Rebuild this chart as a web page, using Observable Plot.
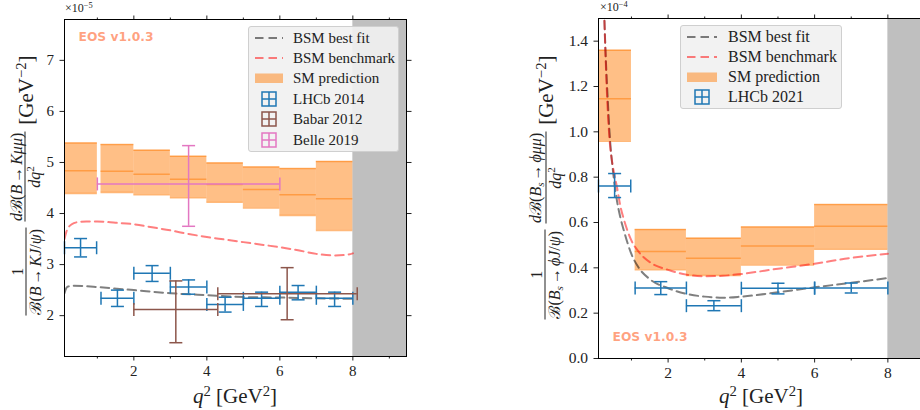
<!DOCTYPE html>
<html>
<head>
<meta charset="utf-8">
<script src="https://cdn.jsdelivr.net/npm/d3@7"></script>
<script src="https://cdn.jsdelivr.net/npm/@observablehq/plot@0.6"></script>
<style>
  html, body { margin: 0; padding: 0; background: #fff; }
  #page { position: relative; width: 920px; height: 410px; overflow: hidden; background: #fff; font-family: "Liberation Serif", serif; color: #222; }
  .panel { position: absolute; top: 0; }
  .ylab { position: absolute; transform: translate(-50%, -50%) rotate(-90deg); display: flex; align-items: center; white-space: nowrap; }
  .frac { display: inline-flex; flex-direction: column; align-items: stretch; font-size: 16px; line-height: 17px; margin: 0 3px; }
  .frac > span { text-align: center; padding: 0 1px; }
  .frac > .num { border-bottom: 1px solid #222; }
  .unit { font-size: 21px; margin-left: 4px; }
  sup { font-size: 0.7em; vertical-align: baseline; position: relative; top: -0.5em; }
  sub { font-size: 0.7em; vertical-align: baseline; position: relative; top: 0.25em; }
  .ar { margin: 0 2px; font-style: normal; }
  .xlab { position: absolute; transform: translate(-50%, -50%); font-size: 21px; white-space: nowrap; }
  .offset { position: absolute; font-size: 12px; white-space: nowrap; }
  .legend { position: absolute; background: rgba(241,241,241,0.9); border: 1px solid #cfcfcf; border-radius: 3px; box-sizing: border-box; }
  .row { position: absolute; left: 0; height: 20px; display: flex; align-items: center; white-space: nowrap; }
  .row svg { position: absolute; top: 0; }
  .row span { position: absolute; top: 50%; transform: translateY(-50%); }
</style>
</head>
<body>
<div id="page"></div>
<script>
// ---------- Left panel: B -> K mu mu (units 1e-5) ----------
const smBinLoK  = [0.1, 1.1, 2, 3, 4, 5, 6, 7];
const smBinHiK  = [1.0, 2.0, 3, 4, 5, 6, 7, 8];
const smCentralK = [4.84, 4.83, 4.77, 4.67, 4.57, 4.47, 4.37, 4.29];
const smLowK     = [4.39, 4.41, 4.37, 4.31, 4.22, 4.11, 3.96, 3.67];
const smHighK    = [5.38, 5.35, 5.24, 5.12, 4.99, 4.91, 4.88, 5.02];

const lhcb14XLo = [0.1, 1.1, 2, 3, 4, 5, 6, 7];
const lhcb14XHi = [0.98, 2, 3, 4, 5, 6, 7, 8];
const lhcb14X   = [0.54, 1.55, 2.5, 3.5, 4.5, 5.5, 6.5, 7.5];
const lhcb14Y   = [3.33, 2.34, 2.83, 2.56, 2.22, 2.34, 2.46, 2.34];
const lhcb14YLo = [3.15, 2.18, 2.67, 2.42, 2.07, 2.18, 2.31, 2.18];
const lhcb14YHi = [3.51, 2.50, 2.98, 2.70, 2.36, 2.46, 2.59, 2.46];

const babarXLo = [2.0, 4.3];
const babarXHi = [4.3, 8.12];
const babarX   = [3.15, 6.2];
const babarY   = [2.12, 2.43];
const babarYLo = [1.47, 1.92];
const babarYHi = [2.68, 2.94];

const belleXLo = [1.0];
const belleXHi = [6.0];
const belleX   = [3.5];
const belleY   = [4.58];
const belleYLo = [3.75];
const belleYHi = [5.33];

const bestFitKq2 = [0.1, 0.15, 0.2, 0.35, 0.6, 1, 2, 3, 4, 5, 6, 7, 8];
const bestFitK   = [2.44, 2.54, 2.57, 2.585, 2.58, 2.56, 2.50, 2.44, 2.40, 2.365, 2.355, 2.34, 2.33];
const benchKq2 = [0.1, 0.15, 0.2, 0.3, 0.45, 0.7, 1, 1.5, 2, 2.5, 3, 3.5, 4, 4.5, 5, 5.5, 6, 6.5, 7, 7.5, 7.8, 8];
const benchK   = [3.50, 3.64, 3.72, 3.79, 3.83, 3.845, 3.845, 3.82, 3.79, 3.73, 3.67, 3.60, 3.54, 3.49, 3.44, 3.39, 3.34, 3.28, 3.21, 3.18, 3.19, 3.22];

const xTicksMajor = [2, 4, 6, 8];
const xTicksMinor = [1, 3, 5, 7, 9];
const yTicksK = [2, 3, 4, 5, 6, 7];

// ---------- Right panel: Bs -> phi mu mu (units 1e-4) ----------
const smBinLoPhi = [0.1, 1.1, 2.5, 4, 6];
const smBinHiPhi = [1.0, 2.5, 4, 6, 8];
const smCentralPhi = [1.146, 0.472, 0.442, 0.496, 0.583];
const smLowPhi     = [0.959, 0.392, 0.366, 0.413, 0.482];
const smHighPhi    = [1.360, 0.569, 0.531, 0.580, 0.679];

const lhcb21XLo = [0.1, 1.1, 2.5, 4, 6];
const lhcb21XHi = [0.98, 2.5, 4, 6, 8];
const lhcb21X   = [0.54, 1.8, 3.25, 5, 7];
const lhcb21Y   = [0.761, 0.311, 0.233, 0.310, 0.311];
const lhcb21YLo = [0.710, 0.282, 0.211, 0.285, 0.289];
const lhcb21YHi = [0.816, 0.339, 0.255, 0.332, 0.333];

const bestFitPhiq2 = [0.25, 0.3, 0.35, 0.4, 0.5, 0.6, 0.7, 0.8, 1.0, 1.2, 1.5, 2, 2.5, 3, 3.5, 4, 5, 6, 7, 8];
const bestFitPhi   = [1.55, 1.32, 1.15, 1.00, 0.82, 0.70, 0.62, 0.56, 0.46, 0.40, 0.35, 0.31, 0.285, 0.273, 0.268, 0.273, 0.292, 0.314, 0.334, 0.355];
const benchPhiq2 = [0.25, 0.3, 0.35, 0.4, 0.5, 0.6, 0.7, 0.8, 1.0, 1.2, 1.5, 2, 2.5, 3, 3.5, 4, 5, 6, 7, 8];
const benchPhi   = [1.55, 1.30, 1.10, 0.97, 0.84, 0.76, 0.67, 0.61, 0.52, 0.47, 0.425, 0.391, 0.370, 0.363, 0.365, 0.373, 0.396, 0.418, 0.444, 0.462];

const yTicksPhi = [0, 0.2, 0.4, 0.6, 0.8, 1.0, 1.2, 1.4];

// ---------- helpers ----------
const ORANGE = "#ff7f0e", BLUE = "#1f77b4", BROWN = "#8c564b", PINK = "#e377c2";
const DASH = "8.5,5";
const hcap = {draw(ctx, size) { const r = Math.sqrt(size / Math.PI); ctx.moveTo(-r, 0); ctx.lineTo(r, 0); }};
const vcap = {draw(ctx, size) { const r = Math.sqrt(size / Math.PI); ctx.moveTo(0, -r); ctx.lineTo(0, r); }};

const bins = (lo, hi, c, l, h) => lo.map((d, i) => ({x1: d, x2: hi[i], c: c[i], lo: l[i], hi: h[i]}));
const pts = (xlo, xhi, x, y, ylo, yhi) => x.map((d, i) => ({xlo: xlo[i], xhi: xhi[i], x: d, y: y[i], ylo: ylo[i], yhi: yhi[i]}));
const curve = (xs, ys) => xs.map((d, i) => ({x: d, y: ys[i]}));

function smMarks(data) {
  return [
    Plot.rect(data, {x1: "x1", x2: "x2", y1: "lo", y2: "hi", fill: ORANGE, fillOpacity: 0.5}),
    Plot.ruleY(data, {x1: "x1", x2: "x2", y: "lo", stroke: ORANGE, strokeOpacity: 0.55, strokeWidth: 1.5}),
    Plot.ruleY(data, {x1: "x1", x2: "x2", y: "hi", stroke: ORANGE, strokeOpacity: 0.55, strokeWidth: 1.5}),
    Plot.ruleY(data, {x1: "x1", x2: "x2", y: "c", stroke: ORANGE, strokeOpacity: 0.55, strokeWidth: 1.5})
  ];
}
function errMarks(data, color) {
  const sw = 1.5, r = 6.5;
  return [
    Plot.ruleY(data, {x1: "xlo", x2: "xhi", y: "y", stroke: color, strokeWidth: sw}),
    Plot.ruleX(data, {x: "x", y1: "ylo", y2: "yhi", stroke: color, strokeWidth: sw}),
    Plot.dot(data, {x: "x", y: "ylo", symbol: hcap, r, stroke: color, strokeWidth: sw, fill: "none"}),
    Plot.dot(data, {x: "x", y: "yhi", symbol: hcap, r, stroke: color, strokeWidth: sw, fill: "none"}),
    Plot.dot(data, {x: "xlo", y: "y", symbol: vcap, r, stroke: color, strokeWidth: sw, fill: "none"}),
    Plot.dot(data, {x: "xhi", y: "y", symbol: vcap, r, stroke: color, strokeWidth: sw, fill: "none"})
  ];
}
function curveMarks(best, bench) {
  return [
    Plot.line(best, {x: "x", y: "y", stroke: "black", strokeOpacity: 0.5, strokeWidth: 2, strokeDasharray: DASH, curve: "monotone-x", clip: true}),
    Plot.line(bench, {x: "x", y: "y", stroke: "red", strokeOpacity: 0.5, strokeWidth: 2, strokeDasharray: DASH, curve: "monotone-x", clip: true})
  ];
}
function axisMarks(yTicks, yFmt, fs) {
  const blank = () => "";
  return [
    Plot.axisX(xTicksMajor, {anchor: "bottom", tickSize: 4.5, tickPadding: 4, label: null, fontSize: fs, tickFormat: d => String(d)}),
    Plot.axisX(xTicksMinor, {anchor: "bottom", tickSize: 2.5, label: null, tickFormat: blank}),
    Plot.axisX(xTicksMajor, {anchor: "top", tickSize: 4.5, label: null, tickFormat: blank}),
    Plot.axisX(xTicksMinor, {anchor: "top", tickSize: 2.5, label: null, tickFormat: blank}),
    Plot.axisY(yTicks, {anchor: "left", tickSize: 4.5, tickPadding: 6, label: null, fontSize: fs, tickFormat: yFmt}),
    Plot.axisY(yTicks, {anchor: "right", tickSize: 4.5, label: null, tickFormat: blank})
  ];
}
const eos = (anchor, dx, dy) => Plot.text(["EOS v1.0.3"], {frameAnchor: anchor, dx, dy, lineAnchor: "middle", textAnchor: "start",
  fill: "orangered", fillOpacity: 0.5, fontFamily: "DejaVu Sans", fontWeight: "bold", fontSize: 12.3});

// ---------- left plot ----------
const xMaxK = 9.47, xMaxPhi = 9.0;
const left = Plot.plot({
  width: 420, height: 410,
  marginLeft: 64, marginRight: 14, marginTop: 19, marginBottom: 54,
  x: {domain: [0.1, xMaxK]},
  y: {domain: [1.2, 7.8]},
  style: {fontFamily: "Liberation Serif", fontSize: "15px", color: "#222", background: "transparent", overflow: "visible"},
  marks: [
    Plot.rect([0], {x1: smBinHiK[smBinHiK.length - 1], x2: xMaxK, fill: "#bfbfbf"}),
    ...curveMarks(curve(bestFitKq2, bestFitK), curve(benchKq2, benchK)),
    ...smMarks(bins(smBinLoK, smBinHiK, smCentralK, smLowK, smHighK)),
    ...errMarks(pts(lhcb14XLo, lhcb14XHi, lhcb14X, lhcb14Y, lhcb14YLo, lhcb14YHi), BLUE),
    ...errMarks(pts(babarXLo, babarXHi, babarX, babarY, babarYLo, babarYHi), BROWN),
    ...errMarks(pts(belleXLo, belleXHi, belleX, belleY, belleYLo, belleYHi), PINK),
    eos("top-left", 14, 18),
    ...axisMarks(yTicksK, d => String(d), 15),
    Plot.frame({stroke: "black", strokeWidth: 1})
  ]
});
left.classList.add("panel"); left.style.left = "0px";

// ---------- right plot ----------
const right = Plot.plot({
  width: 482, height: 410,
  marginLeft: 138, marginRight: 18, marginTop: 18, marginBottom: 52,
  x: {domain: [0.1, xMaxPhi]},
  y: {domain: [0, 1.5]},
  style: {fontFamily: "Liberation Serif", fontSize: "15px", color: "#222", background: "transparent", overflow: "visible"},
  marks: [
    Plot.rect([0], {x1: smBinHiPhi[smBinHiPhi.length - 1], x2: xMaxPhi, fill: "#bfbfbf"}),
    ...smMarks(bins(smBinLoPhi, smBinHiPhi, smCentralPhi, smLowPhi, smHighPhi)),
    ...curveMarks(curve(bestFitPhiq2, bestFitPhi), curve(benchPhiq2, benchPhi)),
    ...errMarks(pts(lhcb21XLo, lhcb21XHi, lhcb21X, lhcb21Y, lhcb21YLo, lhcb21YHi), BLUE),
    eos("bottom-left", 14, -21),
    ...axisMarks(yTicksPhi, d => d.toFixed(1), 15.5),
    Plot.frame({stroke: "black", strokeWidth: 1})
  ]
});
right.classList.add("panel"); right.style.left = "460px";

const page = document.getElementById("page");
page.appendChild(left);
page.appendChild(right);

// ---------- text overlays ----------
function addHTML(html) { const t = document.createElement("div"); t.innerHTML = html; while (t.firstChild) page.appendChild(t.firstChild); }

const ar = '<span class="ar">→</span>';
addHTML(`<div class="ylab" style="left:26px;top:187px">
  <span class="frac"><span class="num">1</span><span class="den">ℬ(<i>B</i>${ar}<i>KJ</i>/<i>ψ</i>)</span></span>
  <span class="frac"><span class="num"><i>d</i>ℬ(<i>B</i>${ar}<i>Kμμ</i>)</span><span class="den"><i>dq</i><sup>2</sup></span></span>
  <span class="unit">[GeV<sup>−2</sup>]</span></div>`);
addHTML(`<div class="ylab" style="left:546px;top:189px">
  <span class="frac"><span class="num">1</span><span class="den">ℬ(<i>B</i><sub><i>s</i></sub>${ar}<i>ϕJ</i>/<i>ψ</i>)</span></span>
  <span class="frac"><span class="num"><i>d</i>ℬ(<i>B</i><sub><i>s</i></sub>${ar}<i>ϕμμ</i>)</span><span class="den"><i>dq</i><sup>2</sup></span></span>
  <span class="unit">[GeV<sup>−2</sup>]</span></div>`);
addHTML(`<div class="xlab" style="left:235px;top:396px"><i>q</i><sup>2</sup> [GeV<sup>2</sup>]</div>`);
addHTML(`<div class="xlab" style="left:761px;top:396px"><i>q</i><sup>2</sup> [GeV<sup>2</sup>]</div>`);
addHTML(`<div class="offset" style="left:65px;top:1px">×10<sup>−5</sup></div>`);
addHTML(`<div class="offset" style="left:600px;top:0px">×10<sup>−4</sup></div>`);

// ---------- legends ----------
function handle(kind, color, w) {
  if (kind === "line") {
    return `<svg width="${w}" height="20"><line x1="0" x2="${w}" y1="10" y2="10" stroke="${color}" stroke-opacity="0.5" stroke-width="2" stroke-dasharray="${DASH}"/></svg>`;
  }
  if (kind === "patch") {
    return `<svg width="${w}" height="20"><rect x="0" y="5.5" width="${w}" height="9.5" fill="${ORANGE}" fill-opacity="0.5"/></svg>`;
  }
  const c = w / 2;
  return `<svg width="${w}" height="20"><g stroke="${color}" stroke-width="1.5" fill="none">
    <rect x="${c - 7}" y="3" width="14" height="14"/><line x1="${c - 7}" x2="${c + 7}" y1="10" y2="10"/><line x1="${c}" x2="${c}" y1="3" y2="17"/></g></svg>`;
}
function legend(x, y, w, h, entries, hw, textX, rowTop, rowStep, fs) {
  const rows = entries.map((e, i) =>
    `<div class="row" style="top:${rowTop + i * rowStep}px;width:${w}px">
       <div style="position:absolute;left:6px;top:0">${handle(e.kind, e.color, hw)}</div>
       <span style="left:${textX}px;font-size:${fs}px">${e.label}</span></div>`).join("");
  addHTML(`<div class="legend" style="left:${x}px;top:${y}px;width:${w}px;height:${h}px">${rows}</div>`);
}
const legendLeft = [
  {kind: "line", color: "black", label: "BSM best fit"},
  {kind: "line", color: "red", label: "BSM benchmark"},
  {kind: "patch", color: ORANGE, label: "SM prediction"},
  {kind: "err", color: BLUE, label: "LHCb 2014"},
  {kind: "err", color: BROWN, label: "Babar 2012"},
  {kind: "err", color: PINK, label: "Belle 2019"}
];
const legendRight = [
  {kind: "line", color: "black", label: "BSM best fit"},
  {kind: "line", color: "red", label: "BSM benchmark"},
  {kind: "patch", color: ORANGE, label: "SM prediction"},
  {kind: "err", color: BLUE, label: "LHCb 2021"}
];
legend(248, 26, 151, 126, legendLeft, 28, 44, 0.5, 20.4, 15);
legend(680, 25, 162, 84, legendRight, 30, 47, 0.5, 20.2, 16);
</script>
</body>
</html>
